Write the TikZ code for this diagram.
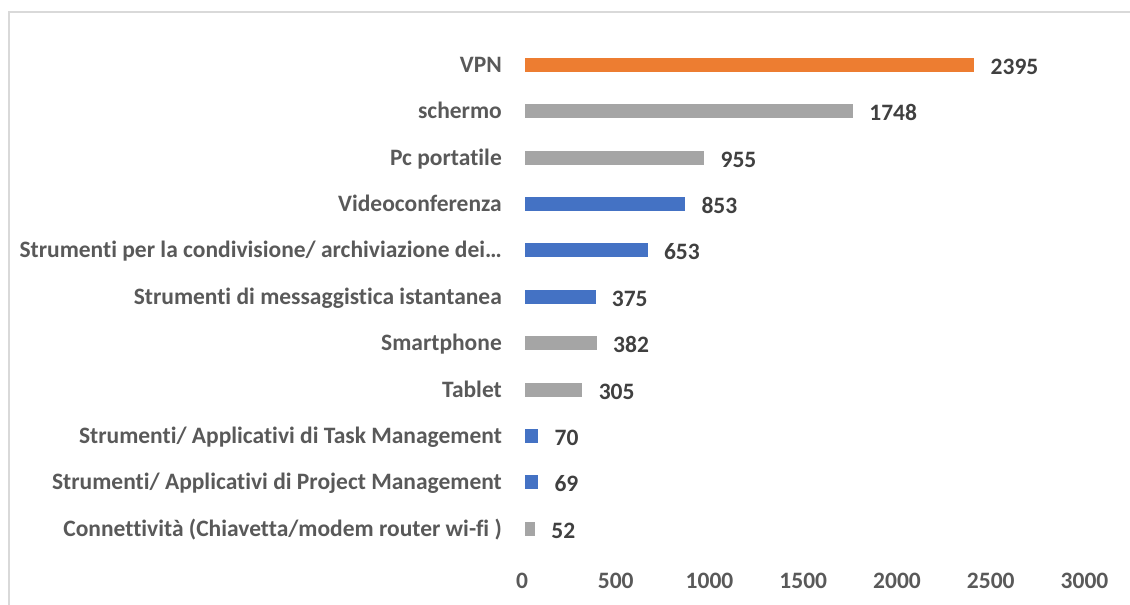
\documentclass[tikz,border=0pt]{standalone}
\usepackage{fontspec}
\setmainfont{Carlito}[RawFeature=-liga]
\definecolor{orangebar}{HTML}{ED7D31}
\definecolor{graybar}{HTML}{A5A5A5}
\definecolor{bluebar}{HTML}{4472C4}
\definecolor{labelc}{HTML}{595959}
\definecolor{valc}{HTML}{404040}
\definecolor{framec}{HTML}{D9D9D9}
\begin{document}
\begin{tikzpicture}[x=1pt,y=-1pt,
  cat/.style={anchor=base east, font=\fontsize{23.5}{26}\selectfont\bfseries, text=labelc, inner sep=0pt},
  val/.style={anchor=base west, font=\fontsize{23.5}{26}\selectfont\bfseries, text=valc, inner sep=0pt},
  tick/.style={anchor=base, font=\fontsize{23.5}{26}\selectfont\bfseries, text=labelc, inner sep=0pt},
  hbar/.style={inner sep=0pt, minimum height=14pt, anchor=west, draw=none}]
\useasboundingbox (0,0) rectangle (1130,605);
\draw[framec, line width=1.5pt] (9,620) -- (9,12) -- (1140,12);
\foreach \i/\lab/\v/\c in {
  0/{VPN}/2395/orangebar,
  1/{schermo}/1748/graybar,
  2/{Pc portatile}/955/graybar,
  3/{Videoconferenza}/853/bluebar,
  4/{Strumenti per la condivisione/ archiviazione dei…}/653/bluebar,
  5/{Strumenti di messaggistica istantanea}/375/bluebar,
  6/{Smartphone}/382/graybar,
  7/{Tablet}/305/graybar,
  8/{Strumenti/ Applicativi di Task Management}/70/bluebar,
  9/{Strumenti/ Applicativi di Project Management}/69/bluebar,
  10/{Connettività (Chiavetta/modem router wi-fi )}/52/graybar}{
  \pgfmathsetmacro{\yc}{64.7+46.4*\i}
  \pgfmathsetmacro{\w}{\v*0.1875}
  \node[cat] (l\i) at (502,\yc+7.6) {\lab};
  \node[hbar, fill=\c, minimum width=\w pt] (b\i) at (525,\yc) {};
  \node[val] (v\i) at ([xshift=16pt]b\i.east |- 0,\yc+9.5) {\v};
}
\foreach \k/\t in {0/0,1/500,2/1000,3/1500,4/2000,5/2500,6/3000}{
  \node[tick] (t\k) at (522+93.75*\k,588) {\t};
}
\end{tikzpicture}
\end{document}
